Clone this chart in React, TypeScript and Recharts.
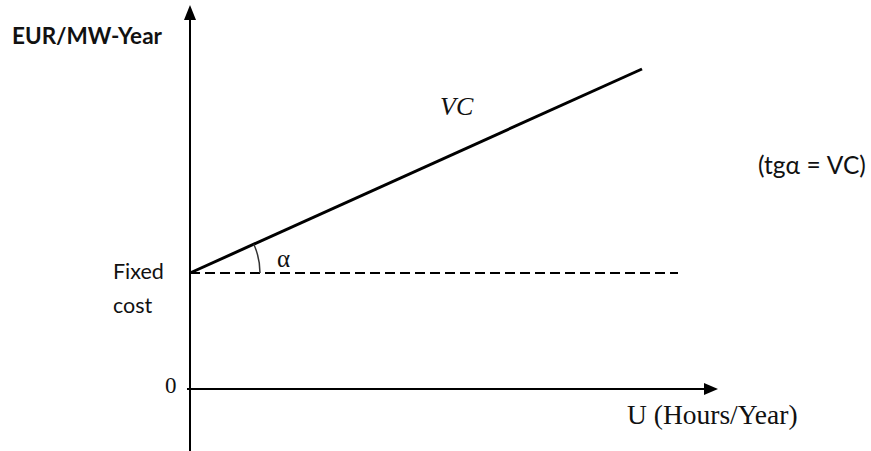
import { LineChart, Line, XAxis, YAxis, ReferenceLine, ReferenceDot } from 'recharts';

// U (hours/year) and cost (EUR/MW-year), in arbitrary diagram units
const hours = [0, 113];
const fixedCost = 29;
const totalCost = [29, 80];
const dashEnd = 122;
const xDomain = [-1, 132];
const yDomain = [-15.5, 96];

const data = hours.map((u, i) => ({ u, cost: totalCost[i] }));

const angle = Math.atan((totalCost[1] - totalCost[0]) / (hours[1] - hours[0]));

const UpArrow = (props: any) => {
  const { cx, cy } = props;
  return <path d={`M${cx},${cy} L${cx - 6},${cy + 15} L${cx + 6},${cy + 15} Z`} fill="#000" />;
};

const RightArrow = (props: any) => {
  const { cx, cy } = props;
  return <path d={`M${cx},${cy} L${cx - 14},${cy - 6} L${cx - 14},${cy + 6} Z`} fill="#000" />;
};

const AngleArc = (props: any) => {
  const { cx, cy } = props;
  const r = 70;
  const ex = cx + r * Math.cos(angle);
  const ey = cy - r * Math.sin(angle);
  return <path d={`M${cx + r},${cy} A${r},${r} 0 0 0 ${ex},${ey}`} fill="none" stroke="#333" strokeWidth={1.5} />;
};

const calibri = 'Lato, "Open Sans", sans-serif';
const times = '"Liberation Serif", "DejaVu Serif", serif';

export default function App() {
  return (
    <div style={{ position: 'absolute', left: 0, top: 0, width: 871, height: 451, background: '#fff' }}>
      <LineChart width={871} height={451} data={data} margin={{ top: 5, right: 153, left: 186, bottom: 0 }}>
        <XAxis dataKey="u" type="number" domain={xDomain} hide />
        <YAxis type="number" domain={yDomain} hide />
        {/* axes */}
        <ReferenceLine segment={[{ x: 0, y: yDomain[0] }, { x: 0, y: 93 }]} stroke="#000" strokeWidth={2} ifOverflow="visible" />
        <ReferenceLine segment={[{ x: -0.75, y: 0 }, { x: 129, y: 0 }]} stroke="#000" strokeWidth={2} ifOverflow="visible" />
        <ReferenceDot x={0} y={yDomain[1]} r={0} shape={UpArrow} ifOverflow="visible" />
        <ReferenceDot x={xDomain[1]} y={0} r={0} shape={RightArrow} ifOverflow="visible" />
        {/* fixed cost level */}
        <ReferenceLine segment={[{ x: 0, y: fixedCost }, { x: dashEnd, y: fixedCost }]} stroke="#000" strokeWidth={1.8} strokeDasharray="10 5" ifOverflow="visible" />
        <ReferenceDot x={0} y={fixedCost} r={0} shape={AngleArc} ifOverflow="visible" />
        <Line type="linear" dataKey="cost" stroke="#000" strokeWidth={3} dot={false} isAnimationActive={false} />
      </LineChart>
      <svg width={871} height={451} style={{ position: 'absolute', left: 0, top: 0, pointerEvents: 'none' }}>
        <text x={12} y={44} fontFamily={calibri} fontWeight={700} fontSize={22.5} fill="#111">EUR/MW-Year</text>
        <text x={113} y={279} fontFamily={calibri} fontSize={21.5} fill="#111">Fixed</text>
        <text x={113} y={313} fontFamily={calibri} fontSize={21.5} fill="#111">cost</text>
        <text x={165} y={393} fontFamily={times} fontSize={23} fill="#111">0</text>
        <text x={627} y={424} fontFamily={times} fontSize={27.5} fill="#111">U (Hours/Year)</text>
        <text x={440} y={115} fontFamily={times} fontStyle="italic" fontSize={26} fill="#111">VC</text>
        <text x={758} y={174} fontFamily={calibri} fontSize={24.5} fill="#111">(tgα = VC)</text>
        <text x={277} y={267} fontFamily={times} fontSize={25} fill="#111">α</text>
      </svg>
    </div>
  );
}
